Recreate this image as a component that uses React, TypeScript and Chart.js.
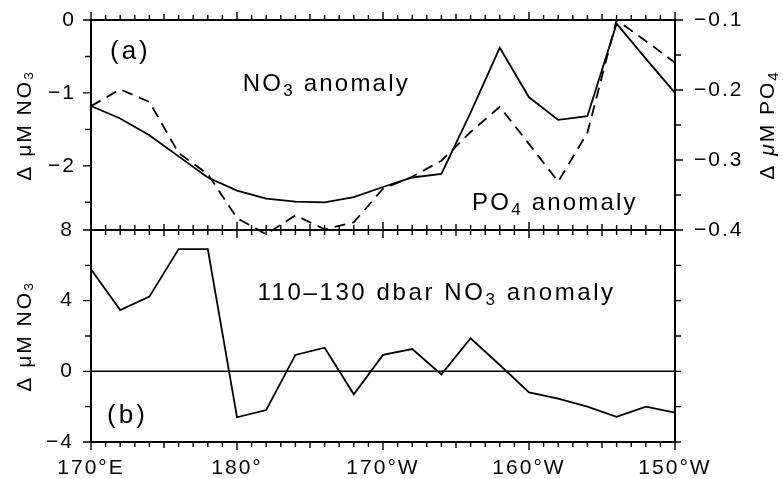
import React, { useEffect, useRef } from 'react';
import { Chart, registerables } from 'chart.js';

Chart.register(...registerables);

// ---------- data ----------
const longitudes = [170, 172, 174, 176, 178, 180, 182, 184, 186, 188, 190, 192, 194, 196, 198, 200, 202, 204, 206, 208, 210];
const no3Anomaly = [-1.18, -1.35, -1.58, -1.87, -2.16, -2.34, -2.45, -2.49, -2.5, -2.43, -2.29, -2.16, -2.11, -1.27, -0.38, -1.06, -1.37, -1.32, -0.05, -0.53, -1.0];
const po4Anomaly = [-0.223, -0.199, -0.217, -0.29, -0.32, -0.383, -0.406, -0.379, -0.399, -0.389, -0.341, -0.324, -0.301, -0.26, -0.224, -0.277, -0.331, -0.261, -0.1, -0.13, -0.161];
const no3Deep = [5.78, 3.47, 4.23, 6.92, 6.92, -2.6, -2.19, 0.93, 1.34, -1.3, 0.93, 1.26, -0.17, 1.87, 0.36, -1.19, -1.55, -2.0, -2.57, -2.0, -2.34];
const zeroLineLon = [170, 210];
const zeroLineVal = [0, 0];

// ---------- ticks ----------
const xMin = 170;
const xMax = 210;
const xMinorStep = 1;
const xMajorTicks = [170, 180, 190, 200, 210];
const xMajorLabels = ['170°E', '180°', '170°W', '160°W', '150°W'];
const yTopLabels = [0, -1, -2];
const yTopMinor = [-0.5, -1.5, -2.5];
const yRightLabels = [-0.1, -0.2, -0.3, -0.4];
const yRightMinor = [-0.15, -0.25, -0.35];
const yBottomLabels = [8, 4, 0, -4];
const yBottomMinor = [6, 2, -2];

const FAM = '"Liberation Sans", Arial, Helvetica, sans-serif';
const tickFont = { family: FAM, size: 21 };

type Part = [string, 'n' | 's' | 'i'];
const annotations: { parts: Part[]; lon: number; val: number; axis: string; size: number; spacing: number }[] = [
  { parts: [['(a)', 'n']], lon: 171.3, val: -0.43, axis: 'yT', size: 26, spacing: 3 },
  { parts: [['NO', 'n'], ['3', 's'], [' anomaly', 'n']], lon: 180.4, val: -0.88, axis: 'yT', size: 24, spacing: 2.2 },
  { parts: [['PO', 'n'], ['4', 's'], [' anomaly', 'n']], lon: 196.1, val: -2.51, axis: 'yT', size: 24, spacing: 2.2 },
  { parts: [['110–130 dbar NO', 'n'], ['3', 's'], [' anomaly', 'n']], lon: 181.4, val: 4.43, axis: 'yB', size: 24, spacing: 2.6 },
  { parts: [['(b)', 'n']], lon: 171.1, val: -2.53, axis: 'yB', size: 26, spacing: 3 },
];

const fmt = (v: number) => (v < 0 ? '\u2212' + String(Math.abs(v)) : String(v));
const near = (arr: number[], v: number) => arr.some((a) => Math.abs(a - v) < 1e-6);

function drawRich(ctx: CanvasRenderingContext2D, parts: Part[], x: number, y: number, size: number, spacing: number, center: boolean) {
  (ctx as any).letterSpacing = spacing + 'px';
  const fontFor = (k: string) =>
    k === 's' ? `${Math.round(size * 0.72)}px ${FAM}` : k === 'i' ? `italic ${size}px ${FAM}` : `${size}px ${FAM}`;
  let total = 0;
  const widths = parts.map(([t, k]) => {
    ctx.font = fontFor(k);
    const w = ctx.measureText(t).width;
    total += w;
    return w;
  });
  let cx = center ? x - total / 2 : x;
  ctx.textBaseline = 'middle';
  ctx.textAlign = 'left';
  ctx.fillStyle = '#000';
  parts.forEach(([t, k], i) => {
    ctx.font = fontFor(k);
    ctx.fillText(t, cx, k === 's' ? y + size * 0.3 : y);
    cx += widths[i];
  });
}

const framePlugin = {
  id: 'framePlugin',
  beforeDraw(chart: any) {
    const ctx = chart.ctx as CanvasRenderingContext2D;
    ctx.save();
    ctx.fillStyle = '#fff';
    ctx.fillRect(0, 0, chart.width, chart.height);
    ctx.restore();
    (ctx as any).letterSpacing = '2px';
  },
  afterDraw(chart: any) {
    const ctx = chart.ctx as CanvasRenderingContext2D;
    const { left, right, top, bottom } = chart.chartArea;
    const sx = chart.scales.x;
    const yT = chart.scales.yT;
    const yB = chart.scales.yB;
    const yR = chart.scales.yR;
    const mid = yT.bottom;
    ctx.save();
    ctx.strokeStyle = '#000';
    ctx.lineWidth = 2;
    ctx.beginPath();
    ctx.rect(left, top, right - left, bottom - top);
    ctx.moveTo(left, mid);
    ctx.lineTo(right, mid);
    ctx.stroke();

    ctx.lineWidth = 1.4;
    ctx.beginPath();
    sx.ticks.forEach((t: any) => {
      const px = sx.getPixelForValue(t.value);
      const len = near(xMajorTicks, t.value) ? 8 : t.value % 5 === 0 ? 6 : 5;
      ctx.moveTo(px, top - len);
      ctx.lineTo(px, top);
      ctx.moveTo(px, mid - len);
      ctx.lineTo(px, mid + len);
      ctx.moveTo(px, bottom);
      ctx.lineTo(px, bottom + len);
    });
    yT.ticks.forEach((t: any) => {
      const py = yT.getPixelForValue(t.value);
      const len = near(yTopLabels, t.value) ? 8 : 6;
      ctx.moveTo(left - len, py);
      ctx.lineTo(left, py);
    });
    yR.ticks.forEach((t: any) => {
      const py = yR.getPixelForValue(t.value);
      const len = near(yRightLabels, t.value) ? 8 : 6;
      ctx.moveTo(right, py);
      ctx.lineTo(right + len, py);
    });
    yB.ticks.forEach((t: any) => {
      const py = yB.getPixelForValue(t.value);
      const len = near(yBottomLabels, t.value) ? 8 : 6;
      ctx.moveTo(left - len, py);
      ctx.lineTo(left, py);
      ctx.moveTo(right, py);
      ctx.lineTo(right + 6, py);
    });
    ctx.stroke();

    // in-panel annotations
    annotations.forEach((a) => {
      const px = sx.getPixelForValue(a.lon);
      const py = chart.scales[a.axis].getPixelForValue(a.val);
      drawRich(ctx, a.parts, px, py, a.size, a.spacing, false);
    });

    // right axis title (reads bottom to top)
    ctx.translate(chart.width - 15, (yR.top + yR.bottom) / 2);
    ctx.rotate(-Math.PI / 2);
    drawRich(ctx, [['Δ ', 'n'], ['μ', 'i'], ['M PO', 'n'], ['4', 's']], 0, 0, 21, 2, true);
    ctx.restore();
    (ctx as any).letterSpacing = '2px';
  },
};

const gridOpts = (tickLength: number) => ({
  grid: { display: false, drawTicks: true, tickLength },
  border: { display: false },
});

export default function App() {
  const ref = useRef<HTMLCanvasElement>(null);
  useEffect(() => {
    if (!ref.current) return;
    const line = (vals: number[], axis: string, dash: number[]) => ({
      data: longitudes.map((lon, i) => ({ x: lon, y: vals[i] })),
      yAxisID: axis,
      borderColor: '#000',
      borderWidth: 1.8,
      borderDash: dash,
      pointRadius: 0,
      tension: 0,
      fill: false,
      clip: 6,
    });
    const chart = new Chart(ref.current, {
      type: 'line',
      data: {
        datasets: [
          line(no3Anomaly, 'yT', []),
          line(po4Anomaly, 'yR', [11, 7]),
          line(no3Deep, 'yB', []),
          {
            data: zeroLineLon.map((lon, i) => ({ x: lon, y: zeroLineVal[i] })),
            yAxisID: 'yB',
            borderColor: '#000',
            borderWidth: 1.5,
            pointRadius: 0,
            fill: false,
          },
        ] as any,
      },
      options: {
        responsive: false,
        animation: false,
        events: [],
        layout: { padding: { top: 20, left: 0, right: 0, bottom: 0 } },
        plugins: { legend: { display: false }, tooltip: { enabled: false } },
        scales: {
          x: {
            type: 'linear',
            position: 'bottom',
            min: xMin,
            max: xMax,
            ...gridOpts(10),
            afterBuildTicks: (s: any) => {
              const t: any[] = [];
              for (let v = xMin; v <= xMax; v += xMinorStep) t.push({ value: v });
              s.ticks = t;
            },
            ticks: {
              autoSkip: false,
              maxRotation: 0,
              minRotation: 0,
              padding: 4,
              font: tickFont,
              color: '#000',
              callback: (v: any) => {
                const i = xMajorTicks.indexOf(Number(v));
                return i >= 0 ? xMajorLabels[i] : '';
              },
            },
            afterFit: (s: any) => {
              s.height = 37;
            },
          },
          yB: {
            type: 'linear',
            position: 'left',
            stack: 'left',
            stackWeight: 212,
            min: -4,
            max: 8,
            ...gridOpts(13),
            afterBuildTicks: (s: any) => {
              s.ticks = [...yBottomLabels, ...yBottomMinor].sort((a, b) => a - b).map((v) => ({ value: v }));
            },
            ticks: {
              autoSkip: false,
              padding: 4,
              font: tickFont,
              color: '#000',
              callback: (v: any) => (near(yBottomLabels, Number(v)) ? fmt(Number(v)) : ''),
            },
            title: { display: true, text: 'Δ μM NO₃', font: tickFont, color: '#000', padding: { top: 13, bottom: 0 } },
            afterFit: (s: any) => {
              s.width = 91;
            },
          },
          yT: {
            type: 'linear',
            position: 'left',
            stack: 'left',
            stackWeight: 210,
            min: -2.88,
            max: 0,
            ...gridOpts(11),
            afterBuildTicks: (s: any) => {
              s.ticks = [...yTopLabels, ...yTopMinor].sort((a, b) => a - b).map((v) => ({ value: v }));
            },
            ticks: {
              autoSkip: false,
              padding: 4,
              font: tickFont,
              color: '#000',
              callback: (v: any) => (near(yTopLabels, Number(v)) ? fmt(Number(v)) : ''),
            },
            title: { display: true, text: 'Δ μM NO₃', font: tickFont, color: '#000', padding: { top: 13, bottom: 0 } },
            afterFit: (s: any) => {
              s.width = 91;
            },
          },
          yR: {
            type: 'linear',
            position: 'right',
            stack: 'right',
            stackWeight: 210,
            min: -0.4,
            max: -0.1,
            ...gridOpts(15),
            afterBuildTicks: (s: any) => {
              s.ticks = [...yRightLabels, ...yRightMinor].sort((a, b) => a - b).map((v) => ({ value: v }));
            },
            ticks: {
              autoSkip: false,
              padding: 4,
              font: tickFont,
              color: '#000',
              callback: (v: any) => (near(yRightLabels, Number(v)) ? fmt(Number(v)) : ''),
            },
            afterFit: (s: any) => {
              s.width = 108;
            },
          },
          yRB: {
            type: 'linear',
            position: 'right',
            stack: 'right',
            stackWeight: 212,
            min: -4,
            max: 8,
            grid: { display: false, drawTicks: false },
            border: { display: false },
            ticks: { display: false },
            afterFit: (s: any) => {
              s.width = 108;
            },
          },
        } as any,
      },
      plugins: [framePlugin],
    });
    return () => chart.destroy();
  }, []);
  return (
    <div style={{ position: 'fixed', left: 0, top: 0, width: 783, height: 479, background: '#fff' }}>
      <canvas ref={ref} width={783} height={479} style={{ display: 'block' }} />
    </div>
  );
}
